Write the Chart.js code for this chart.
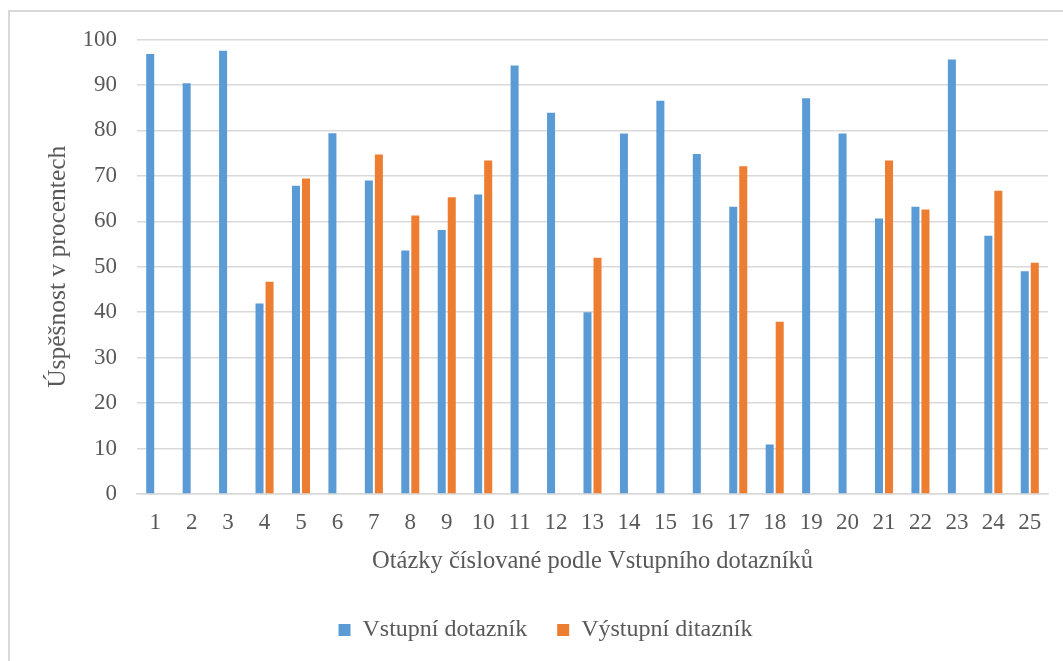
<!DOCTYPE html>
<html>
<head>
<meta charset="utf-8">
<script src="https://cdn.jsdelivr.net/npm/chart.js@4/dist/chart.umd.min.js"></script>
<style>
    body { margin: 0; background: #fff; overflow: hidden; }
    #frame {
        position: absolute;
        left: 8px;
        top: 10px;
        width: 1055px;
        height: 700px;
        border-left: 2px solid #d9d9d9;
        border-top: 2px solid #d9d9d9;
    }
</style>
</head>
<body>
<div id="frame"><canvas id="chart" width="1053" height="680"></canvas></div>
<script>
const questions = ['1', '2', '3', '4', '5', '6', '7', '8', '9', '10', '11', '12', '13',
    '14', '15', '16', '17', '18', '19', '20', '21', '22', '23', '24', '25'];
const vstupni = [96.8, 90.4, 97.5, 41.9, 67.8, 79.4, 69.0, 53.6, 58.1, 65.9, 94.3, 83.9, 40.0,
    79.3, 86.5, 74.8, 63.2, 10.9, 87.1, 79.3, 60.6, 63.2, 95.6, 56.8, 49.0];
const vystupni = [null, null, null, 46.7, 69.4, null, 74.7, 61.3, 65.3, 73.4, null, null, 52.0,
    null, null, null, 72.1, 37.9, null, null, 73.4, 62.6, null, 66.7, 50.9];
const yTicks = [0, 10, 20, 30, 40, 50, 60, 70, 80, 90, 100];

const serif = "'Liberation Serif', 'Times New Roman', serif";
const textColor = '#595959';

const ctx = document.getElementById('chart').getContext('2d');

new Chart(ctx, {
    type: 'bar',
    data: {
        labels: questions,
        datasets: [{
            label: 'Vstupní dotazník',
            data: vstupni,
            backgroundColor: '#5b9bd5',
            categoryPercentage: 0.55,
            barPercentage: 0.8
        }, {
            label: 'Výstupní ditazník',
            data: vystupni,
            backgroundColor: '#ed7d31',
            categoryPercentage: 0.55,
            barPercentage: 0.8
        }]
    },
    options: {
        responsive: false,
        animation: false,
        layout: {
            padding: { top: 4, right: 15, left: 33, bottom: 40 }
        },
        plugins: {
            legend: {
                position: 'bottom',
                labels: {
                    boxWidth: 12,
                    boxHeight: 12,
                    padding: 30,
                    color: textColor,
                    font: { family: serif, size: 24 }
                }
            },
            tooltip: { enabled: false }
        },
        scales: {
            y: {
                min: 0,
                max: 100,
                afterBuildTicks: (axis) => {
                    axis.ticks = yTicks.map(v => ({ value: v }));
                },
                afterFit: (axis) => {
                    axis.width = 94;
                    axis.paddingTop = 27.5;
                },
                grid: {
                    color: '#d9d9d9',
                    lineWidth: 1.5,
                    drawTicks: false
                },
                border: { display: false },
                ticks: {
                    padding: 20,
                    color: textColor,
                    font: { family: serif, size: 23 }
                },
                title: {
                    display: true,
                    text: 'Úspěšnost v procentech',
                    color: textColor,
                    padding: { top: 0, bottom: 10 },
                    font: { family: serif, size: 25.5 }
                }
            },
            x: {
                grid: { display: false, drawTicks: false },
                border: { color: '#d9d9d9', width: 1.5 },
                ticks: {
                    padding: 15,
                    color: textColor,
                    autoSkip: false,
                    maxRotation: 0,
                    font: { family: serif, size: 23 }
                },
                title: {
                    display: true,
                    text: 'Otázky číslované podle Vstupního dotazníků',
                    color: textColor,
                    padding: { top: -5, bottom: 12 },
                    font: { family: serif, size: 24.5 }
                }
            }
        }
    }
});
</script>
</body>
</html>
